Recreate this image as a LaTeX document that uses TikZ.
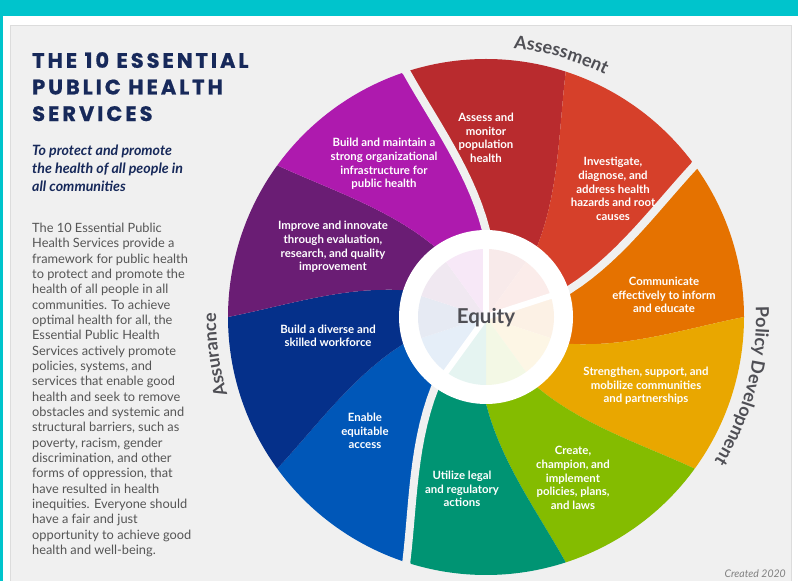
\documentclass[tikz,border=0pt]{standalone}
\usepackage{fontspec}
\setmainfont{Lato}
\newfontfamily\titlefont[LetterSpace=14, BoldFeatures={FakeBold=0.7}]{Poppins}
\usepackage{xcolor}
\usetikzlibrary{decorations.text}

\definecolor{topbar}{HTML}{00C4CC}
\definecolor{panel}{HTML}{F0F0F0}
\definecolor{panelline}{HTML}{DCDCDC}
\definecolor{navytext}{HTML}{17295A}
\definecolor{bodygray}{HTML}{555555}
\definecolor{labelgray}{HTML}{4F4F55}
\definecolor{ephs1}{HTML}{B92B2E}
\definecolor{ephs2}{HTML}{D6402A}
\definecolor{ephs3}{HTML}{E57200}
\definecolor{ephs4}{HTML}{E9A700}
\definecolor{ephs5}{HTML}{84BC00}
\definecolor{ephs6}{HTML}{009473}
\definecolor{ephs7}{HTML}{0057B8}
\definecolor{ephs8}{HTML}{05308A}
\definecolor{ephs9}{HTML}{6A1D74}
\definecolor{ephs10}{HTML}{AE1AAE}

\newcommand{\svcfont}{\fontsize{11.4}{13.6}\selectfont\bfseries}
\newcommand{\grouplbl}{\fontsize{18}{20}\selectfont\bfseries}

\begin{document}
\begin{tikzpicture}[x=1pt, y=1pt,
    svc/.style={text=white, font=\svcfont, align=center, inner sep=0},
    grouptext/.style={decorate, decoration={text along path, text align=center,
        text color=labelgray, text={|\grouplbl|#1}}}]
\useasboundingbox (0,0) rectangle (798,581);
\fill[white] (0,0) rectangle (798,581);
\fill[topbar] (0,565) rectangle (798,581);
\fill[topbar] (0,0) rectangle (2.5,581);
\filldraw[fill=panel, draw=panelline] (10,-2) rectangle (791,556);

% left column
\node[anchor=north west, inner sep=0, align=left, text=navytext,
      font=\titlefont\fontsize{21}{26.6}\selectfont\bfseries] (title) at (32,529)
      {THE 10 ESSENTIAL\\PUBLIC HEALTH\\SERVICES};
\node[anchor=north west, inner sep=0, align=left, text=navytext,
      font=\fontsize{14.2}{17.7}\selectfont\bfseries\itshape] (motto) at (32,436)
      {To protect and promote\\the health of all people in\\all communities};
\node[anchor=north west, inner sep=0, align=left, text=bodygray,
      font=\fontsize{12.8}{15.33}\selectfont] (about) at (32,358)
      {The 10 Essential Public\\Health Services provide a\\framework for public health\\
       to protect and promote the\\health of all people in all\\communities. To achieve\\
       optimal health for all, the\\Essential Public Health\\Services actively promote\\
       policies, systems, and\\services that enable good\\health and seek to remove\\
       obstacles and systemic and\\structural barriers, such as\\poverty, racism, gender\\
       discrimination, and other\\forms of oppression, that\\have resulted in health\\
       inequities. Everyone should\\have a fair and just\\opportunity to achieve good\\
       health and well-being.};

% the wheel: ten swirled slices, offset 8s+12s^2 degrees going inward
\begin{scope}[shift={(486,264)}]
  \foreach \k in {1,...,10}{
    \pgfmathsetmacro\ba{108-36*(\k-1)}
    \pgfmathsetmacro\bb{\ba-36}
    \pgfmathsetmacro\ai{\ba-20}
    \pgfmathsetmacro\bi{\bb-20}
    \fill[ephs\k] (\ba:258) arc[start angle=\ba, end angle=\bb, radius=258]
      -- plot[domain=0:1, samples=16] ({\bb-8*\x-12*\x*\x}:{258-183*\x})
      arc[start angle=\bi, end angle=\ai, radius=75]
      -- plot[domain=0:1, samples=16] ({\ba-8*(1-\x)-12*(1-\x)*(1-\x)}:{75+183*\x})
      -- cycle;
  }
  \foreach \b in {108,36,-108}
    \draw[panel, line width=8] (\b+1.5:270) -- plot[domain=0:1, samples=16] ({\b-8*\x-12*\x*\x}:{258-183*\x});
  \fill[white] (0,0) circle[radius=87];
  \foreach \k in {1,...,10}{
    \pgfmathsetmacro\pa{90-36*(\k-1)}
    \pgfmathsetmacro\pb{\pa-36}
    \fill[ephs\k!10] (0,0) -- (\pb:68) arc[start angle=\pb, end angle=\pa, radius=68] -- cycle;
  }
  \foreach \b in {90,18,-126}
    \draw[white, line width=6] (0,0) -- (\b:70);
  \node[text=labelgray, font=\fontsize{20.5}{23}\selectfont\bfseries] (equity) at (0,-1) {Equity};

  \path[grouptext=Assessment] (104:270) arc[start angle=104, end angle=44, radius=270];
  \path[grouptext=Policy Development] (25:270) arc[start angle=25, end angle=-55, radius=270];
  \path[grouptext=Assurance] (220:270) arc[start angle=220, end angle=156, radius=270];
\end{scope}

\node[svc] (s1) at (486,443) {Assess and\\monitor\\population\\health};
\node[svc] (s2) at (613,392) {Investigate,\\diagnose, and\\address health\\hazards and root\\causes};
\node[svc] (s3) at (664,286) {Communicate\\effectively to inform\\and educate};
\node[svc] (s4) at (646,195) {Strengthen, support, and\\mobilize communities\\and partnerships};
\node[svc] (s5) at (573,103) {Create,\\champion, and\\implement\\policies, plans,\\and laws};
\node[svc] (s6) at (462,92) {Utilize legal\\and regulatory\\actions};
\node[svc] (s7) at (365,150) {Enable\\equitable\\access};
\node[svc] (s8) at (328,245) {Build a diverse and\\skilled workforce};
\node[svc] (s9) at (333,334) {Improve and innovate\\through evaluation,\\research, and quality\\improvement};
\node[svc] (s10) at (384,417) {Build and maintain a\\strong organizational\\infrastructure for\\public health};

\node[anchor=base east, inner sep=0, text=gray, font=\fontsize{10.5}{12}\selectfont\itshape] (created) at (786,3) {Created 2020};
\end{tikzpicture}
\end{document}
